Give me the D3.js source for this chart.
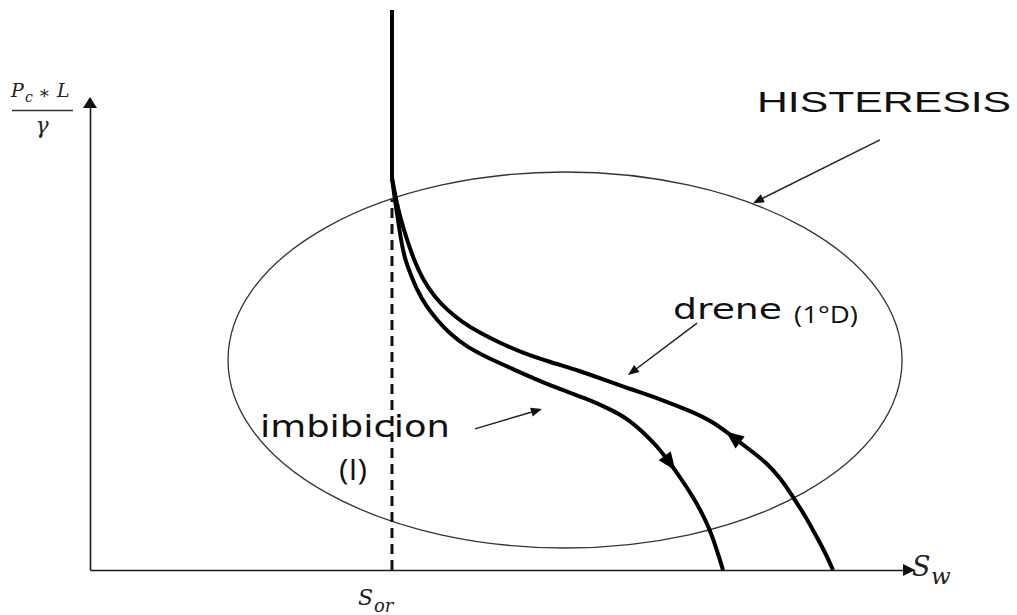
<!DOCTYPE html>
<html>
<head>
<meta charset="utf-8">
<script src="https://cdn.jsdelivr.net/npm/d3@7"></script>
<style>
  html, body { margin: 0; padding: 0; background: #fff; }
  svg { display: block; }
</style>
</head>
<body>
<svg id="chart" width="1017" height="615"></svg>
<script>
// Residual oil saturation (water saturation where the curves start)
const sor = 0.3665;

// Primary drainage: vertical rise at Sor
const primaryDrainage = [[sor, 10], [sor, 7.0]];

// Drainage curve (1°D): [Sw, Pc*L/gamma]
const drainage = [
  [sor, 7.0], [0.3714, 6.607], [0.3774, 6.25], [0.3847, 5.893], [0.3932, 5.536],
  [0.4041, 5.179], [0.4175, 4.893], [0.4333, 4.643], [0.4515, 4.429], [0.4733, 4.232],
  [0.4976, 4.054], [0.5255, 3.875], [0.5583, 3.714], [0.5947, 3.554], [0.6250, 3.393],
  [0.6517, 3.25], [0.6917, 3.054], [0.7318, 2.821], [0.7585, 2.625], [0.7803, 2.375],
  [0.8010, 2.143], [0.8216, 1.911], [0.8386, 1.625], [0.8532, 1.304], [0.8665, 1.0],
  [0.8774, 0.714], [0.8908, 0.357], [0.9017, 0]
];

// Imbibition curve (I): [Sw, Pc*L/gamma]
const imbibition = [
  [sor, 7.0], [0.3701, 6.607], [0.3738, 6.25], [0.3774, 5.893], [0.3823, 5.536],
  [0.3896, 5.268], [0.3968, 5.0], [0.4078, 4.714], [0.4211, 4.464], [0.4369, 4.214],
  [0.4575, 3.982], [0.4830, 3.786], [0.5133, 3.589], [0.5400, 3.411], [0.5667, 3.25],
  [0.6007, 3.071], [0.6311, 2.875], [0.6529, 2.696], [0.6711, 2.464], [0.6881, 2.214],
  [0.7039, 1.911], [0.7184, 1.607], [0.7318, 1.304], [0.7427, 1.018], [0.7524, 0.714],
  [0.7609, 0.357], [0.7682, 0]
];

// Where the flow-direction arrowheads sit on each curve (index, travel sense)
const drainageArrow = { index: 19, sense: -1 };   // travelling up the curve
const imbibitionArrow = { index: 20, sense: 1 };  // travelling down the curve

// Hysteresis envelope (centre and semi-axes in data units)
const hysteresisLoop = { cx: 0.5765, cy: 3.75, rx: 0.409, ry: 3.357 };

// Label callouts: [from, to] in data units
const callouts = [
  [[0.9587, 7.68], [0.8046, 6.55]],   // HISTERESIS
  [[0.7367, 4.41], [0.6529, 3.48]],   // drene
  [[0.4672, 2.52], [0.5485, 2.875]]   // imbibicion
];

// Axis extents
const xAxisMax = 1.0;
const yAxisMax = 8.43;

const svg = d3.select("#chart");

const x = d3.scaleLinear().domain([0, 1]).range([90, 914]);
const y = d3.scaleLinear().domain([0, 10]).range([570, 10]);

// ---- Axes (no ticks, just the arrowed lines) ----
const xAxisScale = x.copy().domain([0, xAxisMax]).range([x(0), x(xAxisMax)]);
const yAxisScale = y.copy().domain([0, yAxisMax]).range([y(0), y(yAxisMax)]);

const gx = svg.append("g")
  .attr("transform", `translate(0,${y(0)})`)
  .call(d3.axisBottom(xAxisScale).tickValues([]).tickSizeOuter(0));
const gy = svg.append("g")
  .attr("transform", `translate(${x(0)},0)`)
  .call(d3.axisLeft(yAxisScale).tickValues([]).tickSizeOuter(0));
[gx, gy].forEach(g => g.select(".domain").attr("stroke", "#1a1a1a").attr("stroke-width", 1.6));

function triangle(tip, dir, len, half) {
  const [tx, ty] = tip, [dx, dy] = dir;
  const bx = tx - dx * len, by = ty - dy * len;
  const px = -dy, py = dx;
  return `M${tx},${ty}L${bx + px * half},${by + py * half}L${bx - px * half},${by - py * half}Z`;
}

// axis arrowheads
svg.append("path")
  .attr("d", triangle([x(xAxisMax) + 1, y(0)], [1, 0], 12, 6))
  .attr("fill", "#111");
svg.append("path")
  .attr("d", triangle([x(0), y(yAxisMax) - 1], [0, -1], 11, 7))
  .attr("fill", "#111");

// ---- Hysteresis ellipse ----
svg.append("ellipse")
  .attr("cx", x(hysteresisLoop.cx))
  .attr("cy", y(hysteresisLoop.cy))
  .attr("rx", x(hysteresisLoop.cx + hysteresisLoop.rx) - x(hysteresisLoop.cx))
  .attr("ry", y(hysteresisLoop.cy - hysteresisLoop.ry) - y(hysteresisLoop.cy))
  .attr("fill", "none")
  .attr("stroke", "#333")
  .attr("stroke-width", 1.3);

// ---- Sor dashed guide ----
svg.append("line")
  .attr("x1", x(sor)).attr("x2", x(sor))
  .attr("y1", y(0)).attr("y2", y(6.62))
  .attr("stroke", "#111")
  .attr("stroke-width", 3)
  .attr("stroke-dasharray", "10,6");

// ---- Capillary pressure curves ----
const straight = d3.line().x(d => x(d[0])).y(d => y(d[1]));
const smooth = d3.line().x(d => x(d[0])).y(d => y(d[1])).curve(d3.curveBasis);

svg.append("path").attr("d", straight(primaryDrainage))
  .attr("fill", "none").attr("stroke", "#000").attr("stroke-width", 4);
[drainage, imbibition].forEach(series => {
  svg.append("path").attr("d", smooth(series))
    .attr("fill", "none").attr("stroke", "#000").attr("stroke-width", 4)
    .attr("stroke-linejoin", "round");
});

// flow-direction arrowheads on the curves
function curveArrow(series, spec) {
  const p = series[spec.index], a = series[spec.index - 1], b = series[spec.index + 1];
  let dx = (x(b[0]) - x(a[0])) * spec.sense, dy = (y(b[1]) - y(a[1])) * spec.sense;
  const n = Math.hypot(dx, dy); dx /= n; dy /= n;
  const tip = [x(p[0]) + dx * 9, y(p[1]) + dy * 9];
  svg.append("path").attr("d", triangle(tip, [dx, dy], 18, 7.5)).attr("fill", "#000");
}
curveArrow(drainage, drainageArrow);
curveArrow(imbibition, imbibitionArrow);

// ---- Callout arrows ----
callouts.forEach(([from, to]) => {
  const x1 = x(from[0]), y1 = y(from[1]), x2 = x(to[0]), y2 = y(to[1]);
  let dx = x2 - x1, dy = y2 - y1; const n = Math.hypot(dx, dy); dx /= n; dy /= n;
  svg.append("line")
    .attr("x1", x1).attr("y1", y1).attr("x2", x2 - dx * 6).attr("y2", y2 - dy * 6)
    .attr("stroke", "#222").attr("stroke-width", 1.5);
  svg.append("path").attr("d", triangle([x2, y2], [dx, dy], 11, 4.5)).attr("fill", "#111");
});

// ---- Text labels ----
const sans = "'Liberation Sans', Arial, sans-serif";
const wide = "'DejaVu Sans', Verdana, sans-serif";
const open = "'Open Sans', 'Noto Sans', sans-serif";
const serif = "'DejaVu Serif', 'Liberation Serif', serif";

svg.append("text").text("HISTERESIS")
  .attr("x", 757).attr("y", 112)
  .attr("font-family", sans).attr("font-size", 30)
  .attr("textLength", 254).attr("lengthAdjust", "spacingAndGlyphs")
  .attr("fill", "#111");

svg.append("text").text("drene")
  .attr("x", 673).attr("y", 319)
  .attr("font-family", wide).attr("font-size", 28)
  .attr("textLength", 109).attr("lengthAdjust", "spacingAndGlyphs")
  .attr("fill", "#111");

svg.append("text").text("(1°D)")
  .attr("x", 794).attr("y", 323)
  .attr("font-family", open).attr("font-size", 23)
  .attr("textLength", 64).attr("lengthAdjust", "spacingAndGlyphs")
  .attr("fill", "#111");

svg.append("text").text("imbibicion")
  .attr("x", 260).attr("y", 437)
  .attr("font-family", wide).attr("font-size", 31)
  .attr("textLength", 190).attr("lengthAdjust", "spacingAndGlyphs")
  .attr("fill", "#111");

svg.append("text").text("(I)")
  .attr("x", 339).attr("y", 480)
  .attr("font-family", open).attr("font-size", 29)
  .attr("textLength", 28).attr("lengthAdjust", "spacingAndGlyphs")
  .attr("fill", "#111");

// y-axis title: Pc * L / gamma
const yTitle = svg.append("g").attr("fill", "#222").attr("font-family", serif).attr("font-style", "italic");
yTitle.append("text").text("P").attr("x", 11).attr("y", 97).attr("font-size", 19);
yTitle.append("text").text("c").attr("x", 25).attr("y", 102).attr("font-size", 14);
yTitle.append("text").text("∗").attr("x", 38).attr("y", 99).attr("font-size", 18).attr("font-style", "normal");
yTitle.append("text").text("L").attr("x", 57).attr("y", 97).attr("font-size", 19);
svg.append("line").attr("x1", 12).attr("x2", 73).attr("y1", 110.5).attr("y2", 110.5)
  .attr("stroke", "#333").attr("stroke-width", 1.5);
yTitle.append("text").text("γ").attr("x", 42).attr("y", 133).attr("font-size", 22).attr("text-anchor", "middle");

// x-axis title: Sw
const xTitle = svg.append("g").attr("fill", "#222").attr("font-family", serif).attr("font-style", "italic");
xTitle.append("text").text("S").attr("x", 912).attr("y", 576).attr("font-size", 27);
xTitle.append("text").text("w").attr("x", 931).attr("y", 584).attr("font-size", 23);

// Sor marker label
xTitle.append("text").text("S").attr("x", 358).attr("y", 605).attr("font-size", 22);
xTitle.append("text").text("or").attr("x", 374).attr("y", 612).attr("font-size", 18);
</script>
</body>
</html>
